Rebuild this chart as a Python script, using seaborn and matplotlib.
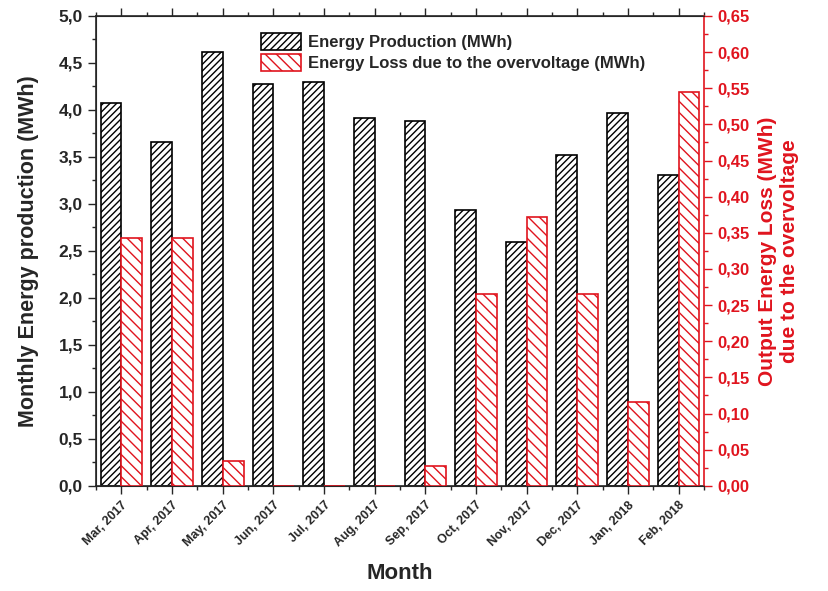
import numpy as np
import pandas as pd
import matplotlib
matplotlib.use("Agg")
import matplotlib.pyplot as plt
from matplotlib.ticker import MultipleLocator, FuncFormatter
from matplotlib.patches import Patch
import seaborn as sns

months = ["Mar, 2017", "Apr, 2017", "May, 2017", "Jun, 2017", "Jul, 2017",
          "Aug, 2017", "Sep, 2017", "Oct, 2017", "Nov, 2017", "Dec, 2017",
          "Jan, 2018", "Feb, 2018"]
production = [4.07, 3.66, 4.62, 4.28, 4.30, 3.91, 3.88, 2.94, 2.59, 3.52, 3.97, 3.31]
loss = [0.343, 0.343, 0.035, 0.0, 0.0, 0.0, 0.027, 0.266, 0.372, 0.266, 0.116, 0.545]

prod_label = "Energy Production (MWh)"
loss_label = "Energy Loss due to the overvoltage (MWh)"
series_order = [prod_label, loss_label]
RED = "#e0141e"
PROD_HATCH = "/////"
LOSS_HATCH = "\\\\\\"

sns.set_style("ticks")
plt.rcParams["font.family"] = ["Liberation Sans", "DejaVu Sans"]
plt.rcParams["font.weight"] = "bold"
plt.rcParams["hatch.linewidth"] = 1.0

# Long table with both series; each axis draws its own series, the other
# series' slot keeps the dodge layout side by side.
df = pd.DataFrame({
    "Month": months * 2,
    "series": [prod_label] * len(months) + [loss_label] * len(months),
    "prod_axis": production + [0.0] * len(months),
    "loss_axis": [0.0] * len(months) + loss,
})

fig = plt.figure(figsize=(8.29, 5.91), dpi=100)
ax = fig.add_axes([0.116, 0.178, 0.733, 0.795])
ax2 = ax.twinx()

sns.barplot(data=df, x="Month", y="prod_axis", hue="series", hue_order=series_order,
            order=months, palette=["white", "white"], width=0.82,
            errorbar=None, edgecolor="black", linewidth=1.2, ax=ax, legend=False)
sns.barplot(data=df, x="Month", y="loss_axis", hue="series", hue_order=series_order,
            order=months, palette=["white", "white"], width=0.82,
            errorbar=None, edgecolor=RED, linewidth=1.2, ax=ax2, legend=False)

# keep only the production bars on the left axis and the loss bars on the right one
for p in list(ax.containers[1]):
    p.remove()
for p in list(ax2.containers[0]):
    p.remove()

for p in ax.containers[0]:
    p.set_hatch(PROD_HATCH)
    p.set_edgecolor("black")
    if hasattr(p, "set_hatchcolor"):
        p.set_hatchcolor("#222222")
for p in ax2.containers[1]:
    p.set_hatch(LOSS_HATCH)
    p.set_edgecolor(RED)
    if hasattr(p, "set_hatchcolor"):
        p.set_hatchcolor(RED)

comma = lambda fmt: FuncFormatter(lambda v, _: (fmt % v).replace(".", ","))

ax.set_xlim(-0.5, len(months) - 0.5)
ax.set_ylim(0, 5.0)
ax.yaxis.set_major_locator(MultipleLocator(0.5))
ax.yaxis.set_minor_locator(MultipleLocator(0.25))
ax.yaxis.set_major_formatter(comma("%.1f"))
ax2.set_ylim(0, 0.65)
ax2.yaxis.set_major_locator(MultipleLocator(0.05))
ax2.yaxis.set_minor_locator(MultipleLocator(0.025))
ax2.yaxis.set_major_formatter(comma("%.2f"))

ax.set_xticks(range(len(months)))
ax.set_xticklabels(months, rotation=45, ha="right", rotation_mode="anchor",
                   fontsize=9, fontweight="bold")
ax.xaxis.set_minor_locator(MultipleLocator(0.5))

ax.tick_params(axis="y", which="major", length=6, width=1, labelsize=12.5, direction="out")
ax.tick_params(axis="y", which="minor", length=3, width=1, direction="out")
ax.tick_params(axis="x", which="major", length=6, width=1, direction="out", top=True)
ax.tick_params(axis="x", which="minor", length=3, width=1, direction="out", top=True)
ax2.tick_params(axis="y", which="major", length=6, width=1, labelsize=12,
                colors=RED, direction="out")
ax2.tick_params(axis="y", which="minor", length=3, width=1, colors=RED,
                direction="out")
for lab in ax.get_yticklabels() + ax2.get_yticklabels():
    lab.set_fontweight("bold")

for s in ["left", "bottom", "top"]:
    ax.spines[s].set_visible(True)
    ax.spines[s].set_linewidth(1.2)
ax2.spines["right"].set_visible(True)
ax2.spines["right"].set_color(RED)
ax2.spines["right"].set_linewidth(1.2)
ax.spines["right"].set_visible(False)

ax.set_xlabel("Month", fontsize=16, fontweight="bold", labelpad=10)
ax.set_ylabel("Monthly Energy production (MWh)", fontsize=15.5, fontweight="bold",
              labelpad=14)
ax2.set_ylabel("Output Energy Loss (MWh)\ndue to the overvoltage", fontsize=15,
               fontweight="bold", color=RED, labelpad=6)

handles = [Patch(facecolor="white", edgecolor="black", hatch=PROD_HATCH, linewidth=1.2),
           Patch(facecolor="white", edgecolor=RED, hatch=LOSS_HATCH, linewidth=1.2)]
if hasattr(handles[1], "set_hatchcolor"):
    handles[1].set_hatchcolor(RED)
leg = ax.legend(handles, series_order, loc="upper left", bbox_to_anchor=(0.255, 0.985),
                frameon=False, fontsize=12, handlelength=2.4, handleheight=1.2,
                handletextpad=0.4, labelspacing=0.2, borderaxespad=0.2)
for t in leg.get_texts():
    t.set_fontweight("bold")

fig.savefig("out.png", dpi=100)
